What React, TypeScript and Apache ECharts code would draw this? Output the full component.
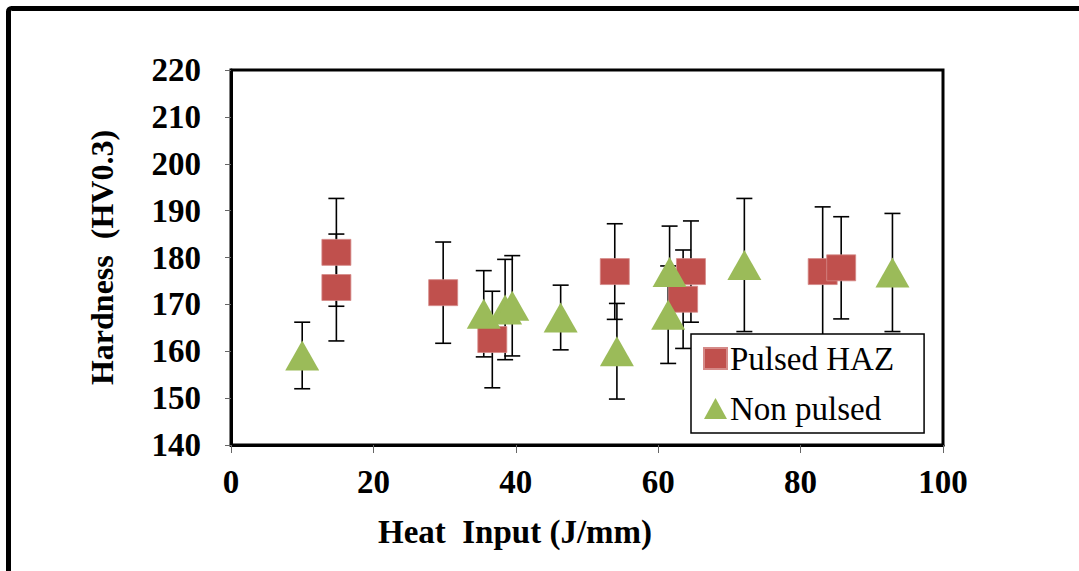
import React, { useEffect, useRef } from "react";
import * as echarts from "echarts";

// Heat input (J/mm), hardness (HV0.3) and ± error for each specimen
const pulsedX = [14.8, 14.8, 29.8, 36.7, 53.9, 63.5, 64.6, 83.1, 85.7];
const pulsedY = [181.1, 173.6, 172.5, 162.5, 177.0, 171.1, 177.0, 177.0, 177.8];
const pulsedErr = [11.5, 11.4, 10.8, 10.3, 10.2, 10.5, 10.8, 13.8, 10.9];

const nonPulsedX = [10.0, 35.5, 38.5, 39.5, 46.3, 54.2, 61.4, 61.6, 72.1, 92.9];
const nonPulsedY = [159.1, 168.0, 168.9, 169.7, 167.2, 160.0, 167.8, 176.9, 178.4, 176.8];
const nonPulsedErr = [7.1, 9.2, 10.7, 10.7, 6.9, 10.2, 10.4, 9.8, 14.2, 12.6];

const xTicks = { min: 0, max: 100, interval: 20 };
const yTicks = { min: 140, max: 220, interval: 10 };

const seriesNames = ["Pulsed HAZ", "Non pulsed"];
const xTitle = "Heat  Input (J/mm)";
const yTitle = "Hardness  (HV0.3)";

const RED = "#C0504D";
const GREEN = "#9BBB59";
const SERIF = "Liberation Serif";

const errorRows = (xs: number[], ys: number[], es: number[]) =>
  xs.map((x, i) => [x, ys[i] - es[i], ys[i] + es[i]]);

const points = (xs: number[], ys: number[]) => xs.map((x, i) => [x, ys[i]]);

const errorBarSeries = (rows: number[][]) => ({
  type: "custom",
  silent: true,
  z: 1,
  data: rows,
  encode: { x: 0, y: [1, 2] },
  renderItem: (_params: any, api: any) => {
    const x = api.value(0);
    const lo = api.coord([x, api.value(1)]);
    const hi = api.coord([x, api.value(2)]);
    const half = 8;
    const style = { stroke: "#000", lineWidth: 1.6 };
    return {
      type: "group",
      children: [
        { type: "line", shape: { x1: lo[0], y1: lo[1], x2: hi[0], y2: hi[1] }, style },
        { type: "line", shape: { x1: hi[0] - half, y1: hi[1], x2: hi[0] + half, y2: hi[1] }, style },
        { type: "line", shape: { x1: lo[0] - half, y1: lo[1], x2: lo[0] + half, y2: lo[1] }, style },
      ],
    };
  },
});

export default function App() {
  const ref = useRef<HTMLDivElement>(null);

  useEffect(() => {
    if (!ref.current) return;
    const chart = echarts.init(ref.current, undefined, { renderer: "svg" });
    chart.setOption({
      animation: false,
      backgroundColor: "#fff",
      grid: {
        left: 231,
        top: 70,
        width: 712,
        height: 375,
        show: true,
        borderColor: "#000",
        borderWidth: 3,
        backgroundColor: "transparent",
      },
      xAxis: {
        type: "value",
        min: xTicks.min,
        max: xTicks.max,
        interval: xTicks.interval,
        splitLine: { show: false },
        axisLine: { show: true, lineStyle: { color: "#000", width: 3 } },
        axisTick: { show: true, length: 8, lineStyle: { color: "#666", width: 1 } },
        axisLabel: {
          margin: 20,
          fontFamily: SERIF,
          fontWeight: "bold",
          fontSize: 33,
          color: "#000",
        },
      },
      yAxis: {
        type: "value",
        min: yTicks.min,
        max: yTicks.max,
        interval: yTicks.interval,
        splitLine: { show: false },
        axisLine: { show: true, lineStyle: { color: "#000", width: 3 } },
        axisTick: { show: true, length: 6, lineStyle: { color: "#666", width: 1 } },
        axisLabel: {
          margin: 30,
          fontFamily: SERIF,
          fontWeight: "bold",
          fontSize: 33,
          color: "#000",
        },
        name: yTitle,
        nameLocation: "middle",
        nameGap: 113,
        nameRotate: 90,
        nameTextStyle: {
          fontFamily: SERIF,
          fontWeight: "bold",
          fontSize: 32,
          color: "#000",
        },
      },
      legend: {
        orient: "vertical",
        left: 691,
        top: 334,
        padding: [8, 30, 8, 12],
        itemGap: 17,
        itemWidth: 23,
        itemHeight: 21,
        backgroundColor: "#fff",
        borderColor: "#000",
        borderWidth: 1.5,
        borderRadius: 0,
        textStyle: {
          fontFamily: SERIF,
          fontSize: 33,
          color: "#000",
          padding: [0, 0, 0, -2],
        },
        data: [
          { name: seriesNames[0], icon: "rect" },
          { name: seriesNames[1], icon: "triangle" },
        ],
      },
      graphic: [
        {
          type: "rect",
          shape: { x: 8.5, y: 8.5, width: 1200, height: 800, r: 3 },
          style: { fill: "none", stroke: "#000", lineWidth: 5 },
          silent: true,
          z: 100,
        },
        {
          type: "text",
          x: 515,
          y: 532,
          style: {
            text: xTitle,
            fontFamily: SERIF,
            fontWeight: "bold",
            fontSize: 33,
            fill: "#000",
            align: "center",
            verticalAlign: "middle",
          },
        },
      ],
      series: [
        errorBarSeries(errorRows(pulsedX, pulsedY, pulsedErr)),
        errorBarSeries(errorRows(nonPulsedX, nonPulsedY, nonPulsedErr)),
        {
          name: seriesNames[0],
          type: "scatter",
          z: 3,
          symbol: "rect",
          symbolSize: [29, 26],
          data: points(pulsedX, pulsedY),
          itemStyle: { color: RED, borderColor: "#D58A88", borderWidth: 0.8, opacity: 1 },
        },
        {
          name: seriesNames[1],
          type: "scatter",
          z: 4,
          symbol: "triangle",
          symbolSize: [34, 30],
          data: points(nonPulsedX, nonPulsedY),
          itemStyle: { color: GREEN, opacity: 1 },
        },
      ],
    });
    return () => chart.dispose();
  }, []);

  return (
    <div
      ref={ref}
      style={{ position: "fixed", left: 0, top: 0, width: 1079, height: 571 }}
    />
  );
}
